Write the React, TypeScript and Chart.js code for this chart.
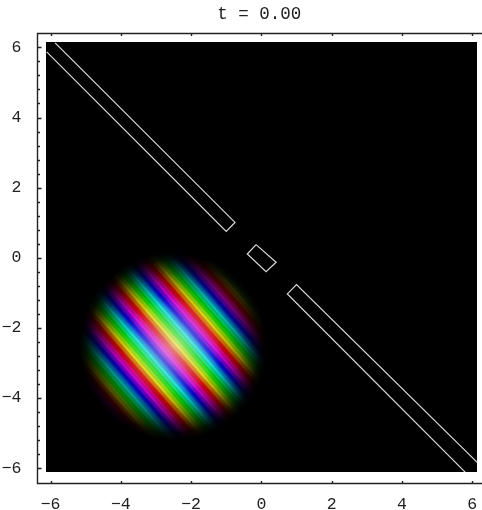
import React, { useEffect, useRef } from "react";
import { Chart, registerables } from "chart.js";

Chart.register(...registerables);

const titleText = "t = 0.00";
const xTicks = [-6, -4, -2, 0, 2, 4, 6];
const yMajorTicks = [-6, -4, -2, 0, 2, 4, 6];
const yMinorTicks = [-5.6, -5.2, -4.8, -4.4, -3.6, -3.2, -2.8, -2.4, -1.6, -1.2, -0.8, -0.4, 0.4, 0.8, 1.2, 1.6, 2.4, 2.8, 3.2, 3.6, 4.4, 4.8, 5.2, 5.6];

const upperPiece = [
  { x: -5.87, y: 6.13 }, { x: -0.75, y: 1.01 }, { x: -1.0, y: 0.755 }, { x: -6.11, y: 5.87 },
];
const middlePiece = [
  { x: -0.15, y: 0.376 }, { x: -0.4, y: 0.11 }, { x: 0.134, y: -0.393 }, { x: 0.42, y: -0.128 }, { x: -0.15, y: 0.376 },
];
const lowerPiece = [
  { x: 6.15, y: -5.84 }, { x: 1.0, y: -0.76 }, { x: 0.74, y: -1.03 }, { x: 5.8, y: -6.11 },
];

// where each colour band crosses the row y = -2.68, and its hue
const stripeCrossX = [
  -5.75, -5.625, -5.5, -5.375, -5.25, -5.125, -5, -4.875, -4.75, -4.625, -4.5, -4.375,
  -4.25, -4.125, -4, -3.875, -3.75, -3.625, -3.5, -3.375, -3.25, -3.125, -3, -2.875,
  -2.75, -2.625, -2.5, -2.375, -2.25, -2.125, -2, -1.875, -1.75, -1.625, -1.5, -1.375,
  -1.25, -1.125, -1, -0.875, -0.75, -0.625, -0.5, -0.375, -0.25, -0.125, 0, 0.125,
  0.25, 0.375, 0.5, 0.625, 0.75, 0.875, 1, 1.125,
];
const stripeHue = [
  300, 330, 0, 30, 60, 90, 120, 150, 180, 210, 240, 270,
  300, 330, 0, 30, 60, 90, 120, 150, 180, 210, 240, 270,
  300, 330, 0, 30, 60, 90, 120, 150, 180, 210, 240, 270,
  300, 330, 0, 30, 60, 90, 120, 150, 180, 210, 240, 270,
  300, 330, 0, 30, 60, 90, 120, 150,
];
const stripeRowY = -2.68;
const stripeTopY = 1.6;
const stripeBottomY = -6.6;
const stripeRunPerRise = -0.87;

const packetCentre = { x: -2.52, y: -2.52 };
const packetRadius = 2.66;
const imageExtent = { left: -6.13, right: 6.14, top: 6.14, bottom: -6.12 };

const INK = "#222222";
const FONT = "'Liberation Mono', monospace";

function imageRect(chart: any) {
  const { scales } = chart;
  const l = Math.round(scales.x.getPixelForValue(imageExtent.left));
  const r = Math.round(scales.x.getPixelForValue(imageExtent.right));
  const t = Math.round(scales.y.getPixelForValue(imageExtent.top));
  const b = Math.round(scales.y.getPixelForValue(imageExtent.bottom));
  return [l, t, r - l, b - t];
}

const stripePlugin = {
  id: "stripeLook",
  beforeDatasetsDraw(chart: any) {
    const { ctx } = chart;
    const [x, y, w, h] = imageRect(chart);
    ctx.save();
    ctx.fillStyle = "#000";
    ctx.fillRect(x, y, w, h);
    ctx.restore();
  },
  beforeDatasetDraw(chart: any, args: any) {
    if (args.index >= 3) {
      const { ctx } = chart;
      const [x, y, w, h] = imageRect(chart);
      ctx.save();
      ctx.beginPath();
      ctx.rect(x, y, w, h);
      ctx.clip();
      ctx.filter = "blur(0.8px)";
    }
  },
  afterDatasetDraw(chart: any, args: any) {
    if (args.index >= 3) chart.ctx.restore();
    if (args.index === 3) {
      const { ctx, scales } = chart;
      const [x, y, w, h] = imageRect(chart);
      const cx = scales.x.getPixelForValue(packetCentre.x);
      const cy = scales.y.getPixelForValue(packetCentre.y);
      const R = scales.x.getPixelForValue(packetCentre.x + packetRadius) - cx;
      ctx.save();
      // pale glow in the middle
      const glow = ctx.createRadialGradient(cx, cy, 0, cx, cy, R * 0.56);
      glow.addColorStop(0, "rgba(255,255,255,0.5)");
      glow.addColorStop(0.5, "rgba(255,255,255,0.26)");
      glow.addColorStop(1, "rgba(255,255,255,0)");
      ctx.globalCompositeOperation = "screen";
      ctx.fillStyle = glow;
      ctx.fillRect(cx - R, cy - R, 2 * R, 2 * R);
      ctx.globalCompositeOperation = "source-over";
      // fade to black
      const fade = ctx.createRadialGradient(cx, cy, 0, cx, cy, R);
      fade.addColorStop(0, "rgba(0,0,0,0)");
      fade.addColorStop(0.45, "rgba(0,0,0,0)");
      fade.addColorStop(0.6, "rgba(0,0,0,0.14)");
      fade.addColorStop(0.72, "rgba(0,0,0,0.38)");
      fade.addColorStop(0.84, "rgba(0,0,0,0.7)");
      fade.addColorStop(0.93, "rgba(0,0,0,0.92)");
      fade.addColorStop(1, "rgba(0,0,0,1)");
      ctx.fillStyle = fade;
      ctx.fillRect(x, y, w, h);
      ctx.restore();
    }
  },
};

const framePlugin = {
  id: "frameAndTicks",
  afterDraw(chart: any) {
    const { ctx, chartArea, scales } = chart;
    const left = Math.round(chartArea.left) + 0.5;
    const top = Math.round(chartArea.top) + 0.5;
    const bottom = Math.round(chartArea.bottom) + 0.5;
    ctx.save();
    ctx.strokeStyle = INK;
    ctx.lineWidth = 1.4;
    ctx.beginPath();
    ctx.moveTo(482, top);
    ctx.lineTo(left, top);
    ctx.lineTo(left, bottom);
    ctx.lineTo(482, bottom);
    for (const v of xTicks) {
      const p = Math.round(scales.x.getPixelForValue(v)) + 0.5;
      ctx.moveTo(p, bottom);
      ctx.lineTo(p, bottom - 2.5);
      ctx.moveTo(p, top);
      ctx.lineTo(p, top + 2.5);
    }
    for (const v of yMajorTicks) {
      const p = Math.round(scales.y.getPixelForValue(v)) + 0.5;
      ctx.moveTo(left, p);
      ctx.lineTo(left + 4, p);
    }
    for (const v of yMinorTicks) {
      const p = Math.round(scales.y.getPixelForValue(v)) + 0.5;
      ctx.moveTo(left, p);
      ctx.lineTo(left + 2.5, p);
    }
    ctx.stroke();
    ctx.restore();
  },
};

export default function App() {
  const ref = useRef<HTMLCanvasElement>(null);
  useEffect(() => {
    const stripeSets = stripeCrossX.map((x0, i) => ({
      label: "band " + i,
      data: [
        { x: x0 + (stripeTopY - stripeRowY) * stripeRunPerRise, y: stripeTopY },
        { x: x0 + (stripeBottomY - stripeRowY) * stripeRunPerRise, y: stripeBottomY },
      ],
      showLine: true,
      borderColor: `hsl(${stripeHue[i]}, 100%, 50%)`,
      borderWidth: 3.4,
      pointRadius: 0,
      borderCapStyle: "butt",
    }));
    const outline = (data: { x: number; y: number }[]) => ({
      data,
      showLine: true,
      borderColor: "#dcdcdc",
      borderWidth: 1.2,
      pointRadius: 0,
      tension: 0,
    });
    const chart = new Chart(ref.current as HTMLCanvasElement, {
      type: "scatter",
      data: {
        datasets: [outline(upperPiece), outline(middlePiece), outline(lowerPiece), ...stripeSets] as any,
      },
      plugins: [stripePlugin, framePlugin],
      options: {
        responsive: false,
        animation: false,
        devicePixelRatio: 1,
        layout: { padding: 0 },
        plugins: {
          legend: { display: false },
          tooltip: { enabled: false },
          title: {
            display: true,
            text: titleText,
            fullSize: false,
            color: INK,
            font: { family: FONT, size: 17.5, weight: "normal", lineHeight: 1.2 },
            padding: { top: 4, bottom: 8 },
          },
        },
        scales: {
          x: {
            type: "linear",
            min: -6.4,
            max: 6.28,
            afterBuildTicks: (s: any) => { s.ticks = xTicks.map((value) => ({ value })); },
            afterFit: (s: any) => { s.height = 27; },
            grid: { display: false },
            border: { display: false },
            ticks: {
              autoSkip: false,
              maxRotation: 0,
              padding: 4,
              color: INK,
              font: { family: FONT, size: 16.5 },
              callback: (v: any) => String(v).replace("-", "\u2212"),
            },
          },
          y: {
            type: "linear",
            min: -6.42,
            max: 6.41,
            afterBuildTicks: (s: any) => { s.ticks = yMajorTicks.map((value) => ({ value })); },
            afterFit: (s: any) => { s.width = 36.5; },
            grid: { display: false },
            border: { display: false },
            ticks: {
              autoSkip: false,
              padding: 7,
              color: INK,
              font: { family: FONT, size: 16.5 },
              callback: (v: any) => String(v).replace("-", "\u2212"),
            },
          },
        },
      },
    });
    return () => chart.destroy();
  }, []);
  return (
    <canvas
      ref={ref}
      width={482}
      height={510}
      style={{ position: "fixed", left: 0, top: 0, width: 482, height: 510 }}
    />
  );
}
